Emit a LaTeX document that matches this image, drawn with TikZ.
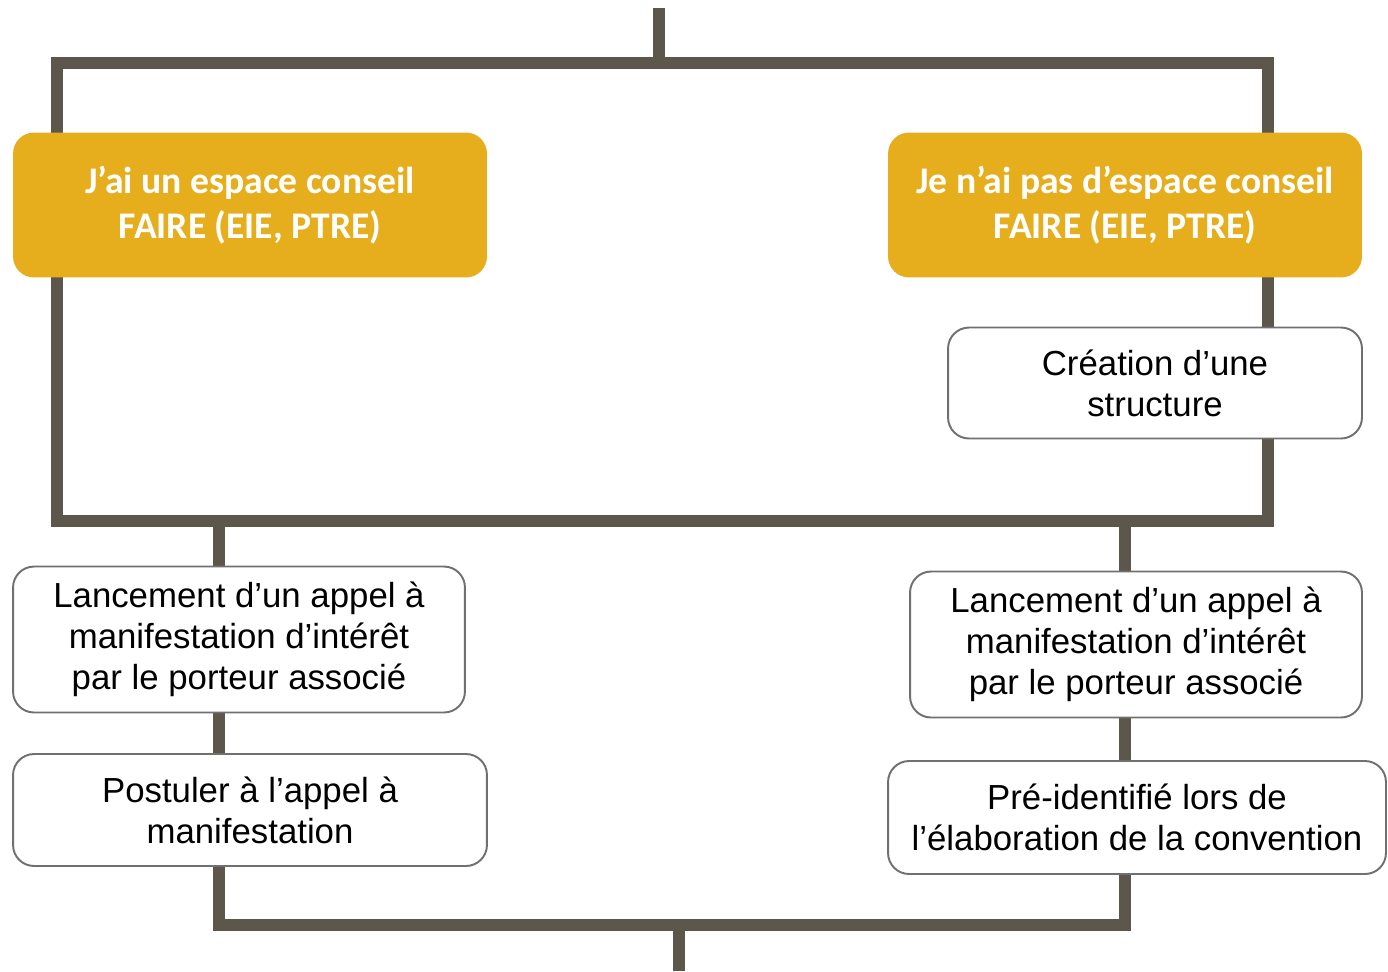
\documentclass[tikz,border=0pt]{standalone}
\usepackage{fontspec}
\setmainfont{Liberation Sans}
\newfontfamily\titrefont{Carlito}
\usetikzlibrary{backgrounds}
\definecolor{trait}{HTML}{5D564B}
\definecolor{jaune}{HTML}{E6AE1C}
\definecolor{bord}{HTML}{707070}

\begin{document}
\begin{tikzpicture}[line cap=butt,line join=miter,x=0.02cm,y=-0.02cm,
	lien/.style={draw=trait,line width=6.5pt},
	choix/.style={fill=jaune,rounded corners=0.42cm,text=white,align=center,inner sep=0pt,
		font=\titrefont\bfseries\fontsize{21.4}{25.6}\selectfont},
	etape/.style={draw=bord,line width=1.1pt,fill=white,rounded corners=0.42cm,align=center,inner sep=0pt,
		font=\fontsize{19.8}{23.3}\selectfont}]
		\useasboundingbox (0,0) rectangle (1388,971);
		\node [choix,minimum width=9.48cm,minimum height=2.9cm] (oui) at (250,205) {J’ai un espace conseil\\FAIRE (EIE, PTRE)};
		\node [choix,minimum width=9.48cm,minimum height=2.9cm] (non) at (1125,205) {Je n’ai pas d’espace conseil\\FAIRE (EIE, PTRE)};
		\node [etape,minimum width=8.28cm,minimum height=2.22cm] (creation) at (1155,383) {Création d’une\\structure};
		\node [etape,minimum width=9.04cm,minimum height=2.92cm] (amiG) at (239,639.5) {Lancement d’un appel à\\manifestation d’intérêt\\par le porteur associé};
		\node [etape,minimum width=9.48cm,minimum height=2.24cm] (postuler) at (250,810) {Postuler à l’appel à\\manifestation};
		\node [etape,minimum width=9.04cm,minimum height=2.92cm] (amiD) at (1136,644.5) {Lancement d’un appel à\\manifestation d’intérêt\\par le porteur associé};
		\node [etape,minimum width=9.96cm,minimum height=2.26cm] (preid) at (1137,817.5) {Pré-identifié lors de\\l’élaboration de la convention};
		\coordinate (haut) at (659,8);
		\coordinate (hg) at (57,63);
		\coordinate (hd) at (1268,63);
		\coordinate (bg) at (57,521);
		\coordinate (bd) at (1268,521);
		\coordinate (xg) at (219,0);
		\coordinate (xd) at (1125,0);
		\coordinate (fin) at (679,971);
		\coordinate (jonction) at (679,925);
		\begin{scope}[on background layer]
			\draw [lien] (haut) -- (haut |- hg);
			\draw [lien] (hg) -- (hd) -- (bd) -- (bg) -- cycle;
			\draw [lien] (bg -| xg) -- (amiG.north -| xg);
			\draw [lien] (amiG.south -| xg) -- (postuler.north -| xg);
			\draw [lien] (bd -| xd) -- (amiD.north -| xd);
			\draw [lien] (amiD.south -| xd) -- (preid.north -| xd);
			\draw [lien] (postuler.south -| xg) -- (jonction -| xg) -- (jonction -| xd) -- (preid.south -| xd);
			\draw [lien] (jonction) -- (fin);
		\end{scope}
	\end{tikzpicture}
\end{document}
